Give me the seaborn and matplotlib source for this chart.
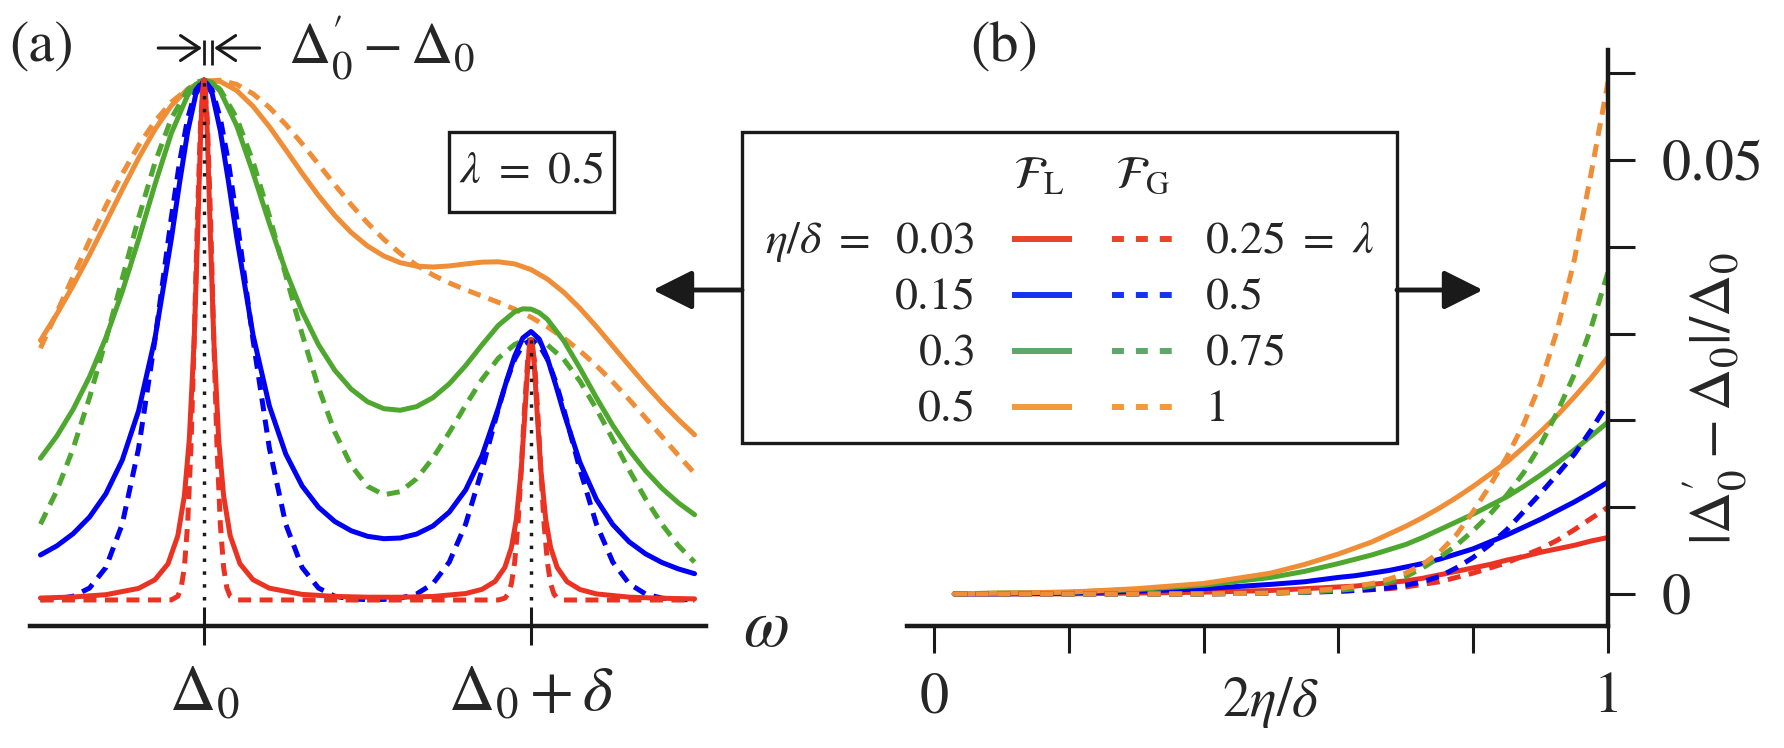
import matplotlib
matplotlib.use("Agg")
import seaborn as sns
import matplotlib.pyplot as plt
from matplotlib.patches import Rectangle, FancyArrowPatch
from matplotlib.lines import Line2D

#dados do painel (a): espectros normalizados, eixo em unidades de delta (Delta_0 = 0)
peak_pos = [0.0, 1.0]
peak_weight = [1.0, 0.5]
delta_shift = 0.025

x_grid = [-0.50, -0.45, -0.40, -0.35, -0.30, -0.25, -0.20, -0.15, -0.10, -0.05,
          0.00, 0.05, 0.10, 0.15, 0.20, 0.25, 0.30, 0.35, 0.40, 0.45, 0.50,
          0.55, 0.60, 0.65, 0.70, 0.75, 0.80, 0.85, 0.90, 0.95, 1.00,
          1.05, 1.10, 1.15, 1.20, 1.25, 1.30, 1.35, 1.40, 1.45, 1.50]

lor_orange = [0.4992, 0.5498, 0.6049, 0.6639, 0.7260, 0.7888, 0.8497, 0.9049, 0.9505, 0.9826,
              0.9985, 0.9972, 0.9798, 0.9494, 0.9101, 0.8658, 0.8207, 0.7779, 0.7395, 0.7069, 0.6808,
              0.6615, 0.6487, 0.6420, 0.6404, 0.6424, 0.6463, 0.6497, 0.6504, 0.6463, 0.6354,
              0.6171, 0.5918, 0.5607, 0.5256, 0.4882, 0.4508, 0.4141, 0.3794, 0.3473, 0.3177]
gau_orange = [0.4843, 0.5529, 0.6225, 0.6914, 0.7577, 0.8193, 0.8742, 0.9206, 0.9573, 0.9828,
              0.9969, 0.9997, 0.9915, 0.9735, 0.9472, 0.9145, 0.8775, 0.8382, 0.7985, 0.7603, 0.7251,
              0.6936, 0.6666, 0.6438, 0.6251, 0.6097, 0.5966, 0.5846, 0.5724, 0.5592, 0.5438,
              0.5254, 0.5039, 0.4789, 0.4505, 0.4192, 0.3855, 0.3503, 0.3145, 0.2785, 0.2436]

x_green = [-0.50, -0.45, -0.40, -0.35, -0.30, -0.25, -0.20, -0.15, -0.10, -0.05, -0.025,
           0.00, 0.025, 0.05, 0.10, 0.15, 0.20, 0.25, 0.30, 0.35, 0.40, 0.45, 0.50,
           0.55, 0.60, 0.65, 0.70, 0.75, 0.80, 0.85, 0.90, 0.95, 0.975,
           1.00, 1.025, 1.05, 1.10, 1.15, 1.20, 1.25, 1.30, 1.35, 1.40, 1.45, 1.50]
lor_green = [0.2727, 0.3152, 0.3668, 0.4293, 0.5044, 0.5929, 0.6930, 0.7988, 0.8974, 0.9706, 0.9915,
             0.9999, 0.9952, 0.9779, 0.9122, 0.8214, 0.7240, 0.6330, 0.5546, 0.4910, 0.4417, 0.4056, 0.3813,
             0.3679, 0.3649, 0.3719, 0.3891, 0.4158, 0.4508, 0.4905, 0.5281, 0.5543, 0.5599,
             0.5594, 0.5526, 0.5397, 0.4986, 0.4453, 0.3889, 0.3357, 0.2887, 0.2486, 0.2150, 0.1871, 0.1641]
gau_green = [0.1458, 0.2102, 0.2916, 0.3893, 0.5000, 0.6179, 0.7349, 0.8409, 0.9259, 0.9810, 0.9952,
             1.0000, 0.9955, 0.9814, 0.9269, 0.8428, 0.7385, 0.6245, 0.5115, 0.4086, 0.3229, 0.2589, 0.2187,
             0.2024, 0.2083, 0.2332, 0.2730, 0.3221, 0.3746, 0.4242, 0.4649, 0.4915, 0.4982,
             0.5005, 0.4979, 0.4907, 0.4630, 0.4204, 0.3674, 0.3090, 0.2500, 0.1946, 0.1458, 0.1051, 0.0729]

x_blue = [-0.50, -0.45, -0.40, -0.35, -0.30, -0.25, -0.20, -0.15, -0.10, -0.075, -0.05, -0.025,
          0.00, 0.025, 0.05, 0.075, 0.10, 0.15, 0.20, 0.25, 0.30, 0.35, 0.40, 0.45, 0.50,
          0.55, 0.60, 0.65, 0.70, 0.75, 0.80, 0.85, 0.90, 0.925, 0.95, 0.975,
          1.00, 1.025, 1.05, 1.075, 1.10, 1.15, 1.20, 1.25, 1.30, 1.35, 1.40, 1.45, 1.50]
lor_blue = [0.0866, 0.1041, 0.1276, 0.1595, 0.2043, 0.2689, 0.3637, 0.5028, 0.6938, 0.8008, 0.9001, 0.9728,
            1.0000, 0.9738, 0.9022, 0.8040, 0.6982, 0.5095, 0.3729, 0.2808, 0.2195, 0.1785, 0.1510, 0.1332, 0.1225,
            0.1179, 0.1192, 0.1268, 0.1423, 0.1690, 0.2116, 0.2772, 0.3691, 0.4210, 0.4692, 0.5041,
            0.5163, 0.5019, 0.4649, 0.4145, 0.3604, 0.2638, 0.1933, 0.1450, 0.1119, 0.0888, 0.0722, 0.0599, 0.0506]
gau_blue = [0.0005, 0.0020, 0.0072, 0.0230, 0.0625, 0.1458, 0.2916, 0.5000, 0.7349, 0.8409, 0.9259, 0.9809,
            1.0000, 0.9809, 0.9259, 0.8409, 0.7349, 0.5000, 0.2916, 0.1458, 0.0625, 0.0230, 0.0072, 0.0020, 0.0007,
            0.0011, 0.0036, 0.0115, 0.0313, 0.0729, 0.1458, 0.2500, 0.3674, 0.4204, 0.4629, 0.4905,
            0.5000, 0.4905, 0.4629, 0.4204, 0.3674, 0.2500, 0.1458, 0.0729, 0.0313, 0.0115, 0.0036, 0.0010, 0.0002]

x_red_lor = [-0.50, -0.40, -0.30, -0.20, -0.15, -0.11, -0.08, -0.06, -0.045, -0.03, -0.02, -0.01, -0.005,
             0.00, 0.005, 0.01, 0.02, 0.03, 0.045, 0.06, 0.08, 0.11, 0.15, 0.20, 0.30, 0.40, 0.50, 0.60, 0.70, 0.80,
             0.85, 0.89, 0.92, 0.94, 0.955, 0.97, 0.98, 0.99, 0.995,
             1.00, 1.005, 1.01, 1.02, 1.03, 1.045, 1.06, 1.08, 1.11, 1.15, 1.20, 1.30, 1.40, 1.50]
lor_red = [0.0038, 0.0058, 0.0102, 0.0223, 0.0389, 0.0696, 0.1237, 0.2004, 0.3081, 0.5004, 0.6927, 0.9004, 0.9734,
           1.0000, 0.9735, 0.9005, 0.6928, 0.5005, 0.3082, 0.2005, 0.1238, 0.0697, 0.0390, 0.0227, 0.0108, 0.0069,
           0.0054, 0.0053, 0.0068, 0.0124,
           0.0205, 0.0357, 0.0628, 0.1010, 0.1549, 0.2510, 0.3471, 0.4509, 0.4874,
           0.5009, 0.4874, 0.4509, 0.3470, 0.2509, 0.1547, 0.1008, 0.0625, 0.0354, 0.0201, 0.0117, 0.0055, 0.0033, 0.0022]

x_red_gau = [-0.50, -0.10, -0.08, -0.07, -0.06, -0.05, -0.04, -0.03, -0.02, -0.01,
             0.00, 0.01, 0.02, 0.03, 0.04, 0.05, 0.06, 0.07, 0.08, 0.10, 0.50,
             0.90, 0.92, 0.93, 0.94, 0.95, 0.96, 0.97, 0.98, 0.99,
             1.00, 1.01, 1.02, 1.03, 1.04, 1.05, 1.06, 1.07, 1.08, 1.10, 1.50]
gau_red = [0.0, 0.0001, 0.0072, 0.0230, 0.0625, 0.1458, 0.2910, 0.5000, 0.7349, 0.9259,
           1.0000, 0.9259, 0.7349, 0.5000, 0.2910, 0.1458, 0.0625, 0.0230, 0.0072, 0.0001, 0.0,
           0.0, 0.0036, 0.0115, 0.0313, 0.0729, 0.1455, 0.2500, 0.3674, 0.4629,
           0.5000, 0.4629, 0.3674, 0.2500, 0.1455, 0.0729, 0.0313, 0.0115, 0.0036, 0.0, 0.0]

#dados do painel (b): desvio relativo do pico
b_x = [0.03, 0.10, 0.20, 0.30, 0.40, 0.50, 0.55, 0.60, 0.625, 0.65, 0.675, 0.70,
       0.725, 0.75, 0.775, 0.80, 0.825, 0.85, 0.875, 0.90, 0.925, 0.95, 0.975, 1.00]
b_lor_red = [0, 0, 0, 0.0001, 0.0002, 0.0004, 0.0006, 0.0008, 0.0009, 0.0011, 0.0013, 0.0015,
             0.0018, 0.0022, 0.0026, 0.0030, 0.0034, 0.0039, 0.0043, 0.0048, 0.0052, 0.0056, 0.0061, 0.0065]
b_lor_blue = [0, 0, 0.0001, 0.0003, 0.0006, 0.0011, 0.0014, 0.0019, 0.0021, 0.0024, 0.0027, 0.0031,
              0.0035, 0.0040, 0.0046, 0.0052, 0.0060, 0.0068, 0.0077, 0.0086, 0.0096, 0.0106, 0.0117, 0.0129]
b_lor_green = [0, 0.0001, 0.0002, 0.0005, 0.0010, 0.0019, 0.0026, 0.0035, 0.0040, 0.0045, 0.0051, 0.0057,
               0.0065, 0.0074, 0.0083, 0.0092, 0.0102, 0.0112, 0.0124, 0.0137, 0.0151, 0.0166, 0.0182, 0.0198]
b_lor_orange = [0, 0.0001, 0.0002, 0.0006, 0.0012, 0.0024, 0.0034, 0.0046, 0.0053, 0.0060, 0.0069, 0.0078,
                0.0088, 0.0099, 0.0111, 0.0124, 0.0138, 0.0152, 0.0169, 0.0187, 0.0206, 0.0227, 0.0249, 0.0273]
b_gau_red = [0, 0, 0, 0, 0, 0.0001, 0.0002, 0.0003, 0.0004, 0.0005, 0.0006, 0.0008,
             0.0011, 0.0014, 0.0019, 0.0024, 0.0030, 0.0036, 0.0044, 0.0052, 0.0062, 0.0074, 0.0087, 0.0100]
b_gau_blue = [0, 0, 0, 0, 0, 0.0001, 0.0002, 0.0003, 0.0004, 0.0005, 0.0007, 0.0010,
              0.0014, 0.0020, 0.0030, 0.0042, 0.0057, 0.0074, 0.0095, 0.0116, 0.0138, 0.0161, 0.0189, 0.0220]
b_gau_green = [0, 0, 0, 0, 0, 0.0001, 0.0002, 0.0004, 0.0006, 0.0009, 0.0014, 0.0020,
               0.0030, 0.0042, 0.0056, 0.0073, 0.0092, 0.0114, 0.0140, 0.0172, 0.0210, 0.0253, 0.0307, 0.0371]
b_gau_orange = [0, 0, 0, 0, 0, 0.0001, 0.0003, 0.0006, 0.0009, 0.0012, 0.0017, 0.0024,
                0.0034, 0.0048, 0.0068, 0.0095, 0.0125, 0.0158, 0.0196, 0.0243, 0.0305, 0.0385, 0.0485, 0.0590]

#legenda
eta_labels = ["0.03", "0.15", "0.3", "0.5"]
lambda_labels = [r"0.25\ =\ \lambda", "0.5", "0.75", "1"]
b_xticks = [0, 0.2, 0.4, 0.6, 0.8, 1.0]
b_xticklabels = ["0", "", "", "", "", "1"]
b_yticks = [0, 0.01, 0.02, 0.03, 0.04, 0.05, 0.06]
b_yticklabels = ["0", "", "", "", "", "0.05", ""]

###########################################################################

sns.set_theme(style="white")
plt.rcParams["font.family"] = ["STIXGeneral", "DejaVu Serif"]
plt.rcParams["mathtext.fontset"] = "stix"

red, blue, green, orange = "#EA3323", "#0000F5", "#4EA72E", "#F08D37"
leg_colors = ["#E8432B", "#1633F0", "#5EA66A", "#F19A3B"]
lw = 3.6
dash = (0, (2.6, 1.7))

W, H = 1784, 748
def fx(px):
    return px / W
def fy(py):
    return 1 - py / H

fig = plt.figure(figsize=(17.84, 7.48), dpi=100)
ax_a = fig.add_axes([fx(30), fy(626), (706 - 30) / W, (626 - 28) / H])
ax_b = fig.add_axes([fx(907), fy(626), (1608 - 907) / W, (626 - 50) / H])
ax_a.patch.set_alpha(0)
ax_b.patch.set_alpha(0)

#painel (a)
curvas_a = [
    (x_grid, lor_orange, orange, "-"), (x_grid, gau_orange, orange, dash),
    (x_green, lor_green, green, "-"), (x_green, gau_green, green, dash),
    (x_blue, lor_blue, blue, "-"), (x_blue, gau_blue, blue, dash),
    (x_red_lor, lor_red, red, "-"), (x_red_gau, gau_red, red, dash),
]
for xs, ys, c, ls in curvas_a:
    sns.lineplot(x=xs, y=ys, ax=ax_a, color=c, lw=lw, linestyle=ls, errorbar=None)

ax_a.vlines(peak_pos, 0, peak_weight, colors="k", linestyles=[(0, (1, 2.7))], lw=2.5, zorder=5)

ax_a.set_xlim(-0.532, 1.535)
ax_a.set_ylim(-0.05, 1.10)
for s in ["top", "left", "right"]:
    ax_a.spines[s].set_visible(False)
ax_a.spines["bottom"].set_linewidth(3.2)
ax_a.spines["bottom"].set_color("k")
ax_a.set_yticks([])
ax_a.set_xticks(peak_pos, labels=[r"$\Delta_0$", r"$\Delta_0+\delta$"])
ax_a.tick_params(axis="x", bottom=True, direction="inout", length=28, width=2.2,
                 color="k", pad=14, labelsize=46)
ax_a.set_xlabel("")
ax_a.set_ylabel("")
ax_a.text(1.719, -0.058, r"$\omega$", fontsize=48, ha="center", va="center")

#marcacao Delta_0' - Delta_0
ax_a.vlines([0.0, delta_shift], 1.029, 1.077, colors="k", lw=2.0, clip_on=False)
seta = dict(arrowstyle="->,head_length=0.45,head_width=0.3", lw=2.2, color="k",
            mutation_scale=30, shrinkA=0, shrinkB=0)
ax_a.annotate("", xy=(-0.006, 1.0615), xytext=(-0.14, 1.0615), arrowprops=seta, annotation_clip=False)
ax_a.annotate("", xy=(delta_shift + 0.006, 1.0615), xytext=(0.17, 1.0615), arrowprops=seta, annotation_clip=False)
ax_a.text(0.257, 1.0615, r"$\Delta^{\prime}_0 - \Delta_0$", fontsize=42, ha="left", va="center")

#caixa lambda
fig.add_artist(Rectangle((fx(449), fy(212)), (614 - 449) / W, (212 - 132) / H,
                         transform=fig.transFigure, fill=False, ec="k", lw=2.4))
fig.text(fx(531), fy(172), r"$\lambda\ =\ 0.5$", fontsize=33, ha="center", va="center")

#painel (b)
for ys, c in [(b_lor_red, red), (b_lor_blue, blue), (b_lor_green, green), (b_lor_orange, orange)]:
    sns.lineplot(x=b_x, y=ys, ax=ax_b, color=c, lw=lw, errorbar=None)
for ys, c in [(b_gau_red, red), (b_gau_blue, blue), (b_gau_green, green), (b_gau_orange, orange)]:
    sns.lineplot(x=b_x, y=ys, ax=ax_b, color=c, lw=lw, linestyle=dash, errorbar=None)

ax_b.set_xlim(-0.040, 1.0)
ax_b.set_ylim(-0.0037, 0.0627)
for s in ["top", "left"]:
    ax_b.spines[s].set_visible(False)
for s in ["bottom", "right"]:
    ax_b.spines[s].set_linewidth(3.2)
    ax_b.spines[s].set_color("k")
ax_b.set_xticks(b_xticks, labels=b_xticklabels)
ax_b.set_yticks(b_yticks, labels=b_yticklabels)
ax_b.tick_params(axis="x", bottom=True, direction="out", length=19.4, width=2.2,
                 color="k", pad=14, labelsize=42)
ax_b.tick_params(axis="y", left=False, labelleft=False, right=True, labelright=True,
                 direction="out", length=19.4, width=2.2, color="k", pad=19, labelsize=42)
ax_b.set_xlabel("")
ax_b.set_ylabel("")
ax_b.text(0.5, -0.01256, r"$2\eta/\delta$", fontsize=40, ha="center", va="center")
fig.text(fx(1715), fy(398), r"$|\Delta^{\prime}_0 - \Delta_0|/\Delta_0$", rotation=90,
         fontsize=42, ha="center", va="center")

#legenda central com setas
fig.add_artist(Rectangle((fx(742), fy(443)), (1397 - 742) / W, (443 - 132) / H,
                         transform=fig.transFigure, fill=False, ec="k", lw=2.4))
for x0, x1 in [(742, 653), (1397, 1483)]:
    fig.add_artist(FancyArrowPatch((fx(x0), fy(290)), (fx(x1), fy(290)), transform=fig.transFigure,
                                   arrowstyle="-|>,head_length=0.4,head_width=0.2", lw=3.5,
                                   color="k", mutation_scale=60, shrinkA=0, shrinkB=0))

fig.text(fx(1013), fy(177), r"$\mathcal{F}_\mathrm{L}$", fontsize=33, ha="left", va="center")
fig.text(fx(1115), fy(177), r"$\mathcal{F}_\mathrm{G}$", fontsize=33, ha="left", va="center")
fig.text(fx(870), fy(242), r"$\eta/\delta\ =$", fontsize=33, ha="right", va="center")
rows_y = [239, 295, 351, 407]
for i, y in enumerate(rows_y):
    fig.text(fx(974), fy(y + 3), "$" + eta_labels[i] + "$", fontsize=33, ha="right", va="center")
    fig.add_artist(Line2D([fx(1012), fx(1072)], [fy(y), fy(y)], transform=fig.transFigure,
                          color=leg_colors[i], lw=4.3, solid_capstyle="butt"))
    fig.add_artist(Line2D([fx(1112), fx(1172)], [fy(y), fy(y)], transform=fig.transFigure,
                          color=leg_colors[i], lw=4.3, linestyle=(0, (2, 2)), dash_capstyle="butt"))
    fig.text(fx(1205), fy(y + 3), "$" + lambda_labels[i] + "$", fontsize=33, ha="left", va="center")

fig.text(fx(42), fy(48), "(a)", fontsize=42, ha="center", va="center")
fig.text(fx(1004), fy(48), "(b)", fontsize=42, ha="center", va="center")

fig.savefig("out.png", dpi=100)
